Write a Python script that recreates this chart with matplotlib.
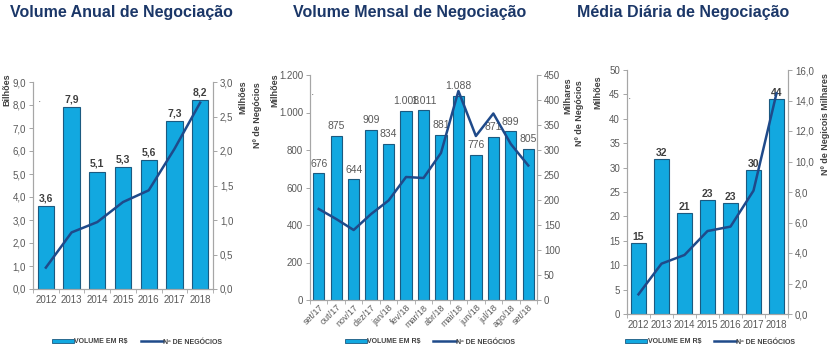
import numpy as np
import matplotlib
matplotlib.use("Agg")
import matplotlib.pyplot as plt
from matplotlib.ticker import FuncFormatter, FixedLocator
from matplotlib.patches import Patch
from matplotlib.lines import Line2D

plt.rcParams['font.family'] = ['Liberation Sans', 'DejaVu Sans']

# -------------------------------
# Data
# -------------------------------
years = ['2012', '2013', '2014', '2015', '2016', '2017', '2018']
anual_volume = [3.6, 7.9, 5.1, 5.3, 5.6, 7.3, 8.2]          # Bilhões
anual_negocios = [0.31, 0.82, 0.97, 1.26, 1.43, 2.03, 2.70]  # Milhões

months = ['set/17', 'out/17', 'nov/17', 'dez/17', 'jan/18', 'fev/18', 'mar/18',
          'abr/18', 'mai/18', 'jun/18', 'jul/18', 'ago/18', 'set/18']
mensal_volume = [676, 875, 644, 909, 834, 1008, 1011, 881, 1088, 776, 871, 899, 805]  # Milhões
mensal_negocios = [182, 162, 140, 172, 199, 246, 244, 294, 418, 328, 373, 312, 269]  # Milhares

diaria_volume = [14.6, 31.7, 20.6, 23.4, 22.7, 29.6, 44.1]   # Milhões
diaria_negocios = [1.29, 3.30, 3.87, 5.44, 5.73, 8.09, 14.47]  # Milhares

BAR = '#12A8E0'
BAR_EDGE = '#1B5A80'
LINE = '#1F4A8A'
TITLE = '#1B3768'
GRAY = '#595959'
LABEL = '#404040'
SPINE = '#A6A6A6'

fig = plt.figure(figsize=(8.4, 3.53), dpi=100)
W, H = 840, 353


def axes_px(left, right, top, bottom):
    return fig.add_axes([left / W, (H - bottom) / H, (right - left) / W, (bottom - top) / H])


def comma(dec):
    def f(v, pos):
        s = f"{v:,.{dec}f}"
        return s.replace(',', 'X').replace('.', ',').replace('X', '.')
    return FuncFormatter(f)


def style(ax, ax2, n):
    for a in (ax, ax2):
        a.spines['top'].set_visible(False)
        for s in ('left', 'right', 'bottom'):
            a.spines[s].set_color(SPINE)
            a.spines[s].set_linewidth(0.8)
        a.tick_params(axis='y', colors=GRAY, labelsize=7, length=3, width=0.7,
                      color=SPINE, pad=2)
    ax.tick_params(axis='x', colors=GRAY, labelsize=7, length=0, pad=4)
    ax.xaxis.set_minor_locator(FixedLocator(np.arange(-0.5, n, 1)))
    ax.tick_params(axis='x', which='minor', length=3, color=SPINE)
    ax.set_xlim(-0.5, n - 0.5)
    ax.set_zorder(ax2.get_zorder() - 1)
    ax2.patch.set_visible(False)


def legend(x):
    handles = [Patch(facecolor=BAR, edgecolor=BAR_EDGE, linewidth=0.6),
               Line2D([0], [0], color=LINE, lw=1.8)]
    fig.legend(handles, ['VOLUME EM R$', 'Nº DE NEGÓCIOS'], loc='center',
               bbox_to_anchor=(x / W, (H - 342) / H), ncol=2, frameon=False,
               prop={'size': 5, 'weight': 'bold'}, labelcolor=LABEL,
               handlelength=3.2, handleheight=0.5, handletextpad=0.1, columnspacing=1.8)


def side_label(x, top, text):
    fig.text(x / W, 1 - top / H, text, rotation=90, fontsize=6.5, fontweight='bold',
             color=LABEL, ha='center', va='top')


# -------------------------------
# Panel 1: Volume Anual
# -------------------------------
ax1 = axes_px(33, 213, 82, 289)
ax1b = ax1.twinx()
x = np.arange(len(years))
ax1.bar(x, anual_volume, width=0.63, color=BAR, edgecolor=BAR_EDGE, linewidth=0.8)
for xi, v in zip(x, anual_volume):
    ax1.text(xi, v + 0.12, f"{v:.1f}".replace('.', ','), ha='center', va='bottom',
             fontsize=7.5, fontweight='bold', color=LABEL)
ax1b.plot(x, anual_negocios, color=LINE, lw=1.8)
ax1.set_ylim(0, 9)
ax1.set_yticks(np.arange(0, 9.1, 1))
ax1.yaxis.set_major_formatter(comma(1))
ax1b.set_ylim(0, 3)
ax1b.set_yticks(np.arange(0, 3.01, 0.5))
ax1b.yaxis.set_major_formatter(comma(1))
ax1.set_xticks(x)
ax1.set_xticklabels(years)
style(ax1, ax1b, len(years))
legend(137)

fig.text(10 / W, 1 - 12 / H, 'Volume Anual de Negociação', fontsize=11.5,
         fontweight='bold', color=TITLE, va='center', ha='left')
side_label(7, 73, 'Bilhões')
side_label(243, 80, 'Milhões')
side_label(258, 82, 'Nº de Negócios')
fig.text(40 / W, 1 - 103 / H, '•', fontsize=3, color=GRAY, ha='center', va='center')

# -------------------------------
# Panel 2: Volume Mensal
# -------------------------------
ax2 = axes_px(310, 537, 75, 300)
ax2b = ax2.twinx()
xm = np.arange(len(months))
ax2.bar(xm, mensal_volume, width=0.65, color=BAR, edgecolor=BAR_EDGE, linewidth=0.8)
for xi, v in zip(xm, mensal_volume):
    ax2.text(xi, v + 25, f"{v:,}".replace(',', '.'), ha='center', va='bottom',
             fontsize=7.5, color=GRAY)
ax2b.plot(xm, mensal_negocios, color=LINE, lw=1.8)
ax2.set_ylim(0, 1200)
ax2.set_yticks(np.arange(0, 1201, 200))
ax2.yaxis.set_major_formatter(FuncFormatter(lambda v, p: f"{int(v):,}".replace(',', '.')))
ax2b.set_ylim(0, 450)
ax2b.set_yticks(np.arange(0, 451, 50))
ax2.set_xticks(xm)
ax2.set_xticklabels(months, rotation=45, ha='right', rotation_mode='anchor')
style(ax2, ax2b, len(months))
ax2.tick_params(axis='x', labelsize=6.5, pad=2)
legend(430)

fig.text(293 / W, 1 - 12 / H, 'Volume Mensal de Negociação', fontsize=11.5,
         fontweight='bold', color=TITLE, va='center', ha='left')
side_label(275, 73, 'Milhões')
side_label(568, 77, 'Milhares')
fig.text(313 / W, 1 - 96 / H, '•', fontsize=3, color=GRAY, ha='center', va='center')

# -------------------------------
# Panel 3: Média Diária
# -------------------------------
ax3 = axes_px(627, 788, 70, 314)
ax3b = ax3.twinx()
ax3.bar(x, diaria_volume, width=0.68, color=BAR, edgecolor=BAR_EDGE, linewidth=0.8)
for xi, v in zip(x, diaria_volume):
    ax3.text(xi, v + 0.2, f"{v:.0f}", ha='center', va='bottom',
             fontsize=7.5, fontweight='bold', color=LABEL)
ax3b.plot(x, diaria_negocios, color=LINE, lw=1.8)
ax3.set_ylim(0, 50)
ax3.set_yticks(np.arange(0, 51, 5))
ax3b.set_ylim(0, 16)
ax3b.set_yticks(np.arange(0, 16.1, 2))
ax3b.yaxis.set_major_formatter(comma(1))
ax3.set_xticks(x)
ax3.set_xticklabels(years)
style(ax3, ax3b, len(years))
legend(710)

fig.text(577 / W, 1 - 12 / H, 'Média Diária de Negociação', fontsize=11.5,
         fontweight='bold', color=TITLE, va='center', ha='left')
side_label(580, 80, 'Nº de Negócios')
side_label(598, 75, 'Milhões')
side_label(825, 73, 'Nº de Negicois Milhares')
fig.text(630 / W, 1 - 100 / H, '•', fontsize=3, color=GRAY, ha='center', va='center')

fig.savefig('out.png', dpi=100)
